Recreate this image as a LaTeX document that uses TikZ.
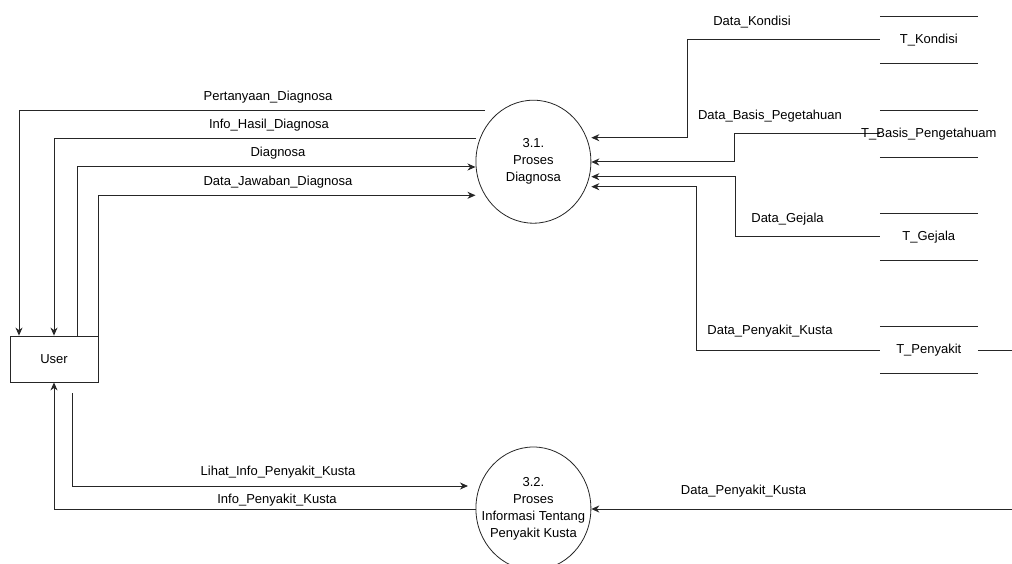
\documentclass[tikz,border=0pt]{standalone}
\usepackage{fontspec}
\setmainfont{Liberation Sans}
\usetikzlibrary{arrows.meta,shapes.geometric}

\begin{document}
\begin{tikzpicture}[x=1pt,y=-1pt,
  line/.style={draw=black!85, line width=1pt},
  flow/.style={line, -{Stealth[length=8pt,width=7pt,inset=2.5pt]}},
  lbl/.style={font=\fontsize{13}{15}\selectfont, inner sep=0pt},
  proc/.style={ellipse, draw=black!85, line width=0.8pt, minimum width=115pt,
    minimum height=123pt, inner sep=0pt},
  proctext/.style={align=center, inner sep=0pt,
    font=\fontsize{13}{17}\selectfont},
  entity/.style={rectangle, draw=black!85, line width=0.8pt, minimum width=88pt,
    minimum height=46pt, font=\fontsize{13}{15}\selectfont},
  store/.style={minimum width=97.6pt, minimum height=47pt, inner sep=0pt,
    font=\fontsize{13}{15}\selectfont},
  storeline/.style={draw=black!85, line width=1pt}
]
\useasboundingbox (0,0) rectangle (1012,564);

% processes and entity
\node[proc] (p31) at (533.4,161.7) {};
\node[proctext] (p31t) at (p31) {3.1.\\Proses\\Diagnosa};
\node[proc] (p32) at (533.4,508.5) {};
\node[proctext] (p32t) at (p32) {3.2.\\Proses\\Informasi Tentang\\Penyakit Kusta};
\node[entity] (user) at (54,359)  {User};

% data stores
\node[store] (tk) at (928.8,40)  {T\_Kondisi};
\node[store] (tb) at (928.8,134) {};
\node[store] (tg) at (928.8,237) {T\_Gejala};
\node[store] (tp) at (928.8,350) {T\_Penyakit};
\foreach \s in {tk,tb,tg,tp}{
  \draw[storeline] (\s.north west) -- (\s.north east);
  \draw[storeline] (\s.south west) -- (\s.south east);
}

% loose ends
\coordinate (q1) at (485,110.7);
\coordinate (q2) at (476,138.7);
\coordinate (tpout) at (1012,350);
\coordinate (dpin) at (1012,509);
\coordinate (lihat) at (72,393);

% User <-> 3.1
\draw[flow] (q1) -| (user.north -| 19,0);
\draw[flow] (q2) -| (user.north);
\draw[flow] (user.north -| 77,0) |- (p31.west |- 0,167);
\draw[flow] (user.north east) |- (p31.west |- 0,195.3);
\node[lbl] at (268,97)  {Pertanyaan\_Diagnosa};
\node[lbl] at (269,125) {Info\_Hasil\_Diagnosa};
\node[lbl] at (278,153) {Diagnosa};
\node[lbl] at (278,182) {Data\_Jawaban\_Diagnosa};

% stores -> 3.1
\draw[flow] (tk.west) -- (687,40) -- (687,137.7) -- (p31.east |- 0,137.7);
\draw[flow] (tb.west) -- (734.6,134) -- (734.6,162) -- (p31.east |- 0,162);
\draw[flow] (tg.west) -- (735.4,237) -- (735.4,176.7) -- (p31.east |- 0,176.7);
\draw[flow] (tp.west) -- (696,350) -- (696,186.7) -- (p31.east |- 0,186.7);
\node[store] (tbt) at (tb) {T\_Basis\_Pengetahuam};
\node[lbl] at (752,22)  {Data\_Kondisi};
\node[lbl] at (770,116) {Data\_Basis\_Pegetahuan};
\node[lbl] at (787.5,219) {Data\_Gejala};
\node[lbl] at (770,331) {Data\_Penyakit\_Kusta};

% T_Penyakit -> 3.2
\draw[line] (tp.east) -- (tpout);
\draw[flow] (dpin) -- (p32.east |- dpin);
\node[lbl] at (743.5,491) {Data\_Penyakit\_Kusta};

% User <-> 3.2
\draw[flow] (lihat) |- (468,486);
\draw[flow] (p32.west |- 0,509) -| (user.south);
\node[lbl] at (278,472) {Lihat\_Info\_Penyakit\_Kusta};
\node[lbl] at (277,500) {Info\_Penyakit\_Kusta};
\end{tikzpicture}
\end{document}
